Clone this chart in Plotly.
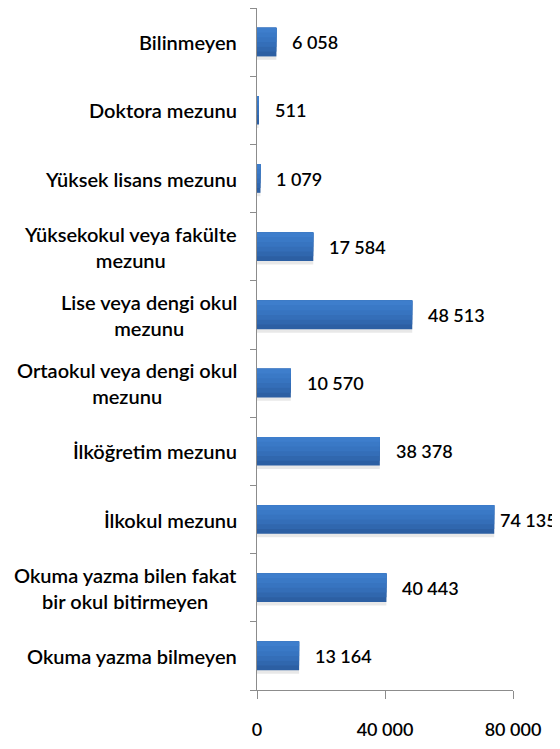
import plotly.graph_objects as go

categories = [
    "Okuma yazma bilmeyen",
    "Okuma yazma bilen fakat<br>bir okul bitirmeyen",
    "İlkokul mezunu",
    "İlköğretim mezunu",
    "Ortaokul veya dengi okul<br>mezunu",
    "Lise veya dengi okul<br>mezunu",
    "Yüksekokul veya fakülte<br>mezunu",
    "Yüksek lisans mezunu",
    "Doktora mezunu",
    "Bilinmeyen",
]
values = [13164, 40443, 74135, 38378, 10570, 48513, 17584, 1079, 511, 6058]
x_ticks = [0, 40000, 80000]

FONT = "Lato"
WEIGHT = 600
fmt = lambda v: f"{v:,}".replace(",", " ")

BW = 0.42  # bar thickness in category units
fig = go.Figure()
# soft shadow
fig.add_trace(go.Bar(
    y=categories, x=values, orientation="h",
    marker=dict(color="rgba(0,0,0,0.09)", line=dict(width=0)),
    width=BW, offset=-BW / 2 - 0.05, hoverinfo="skip",
))
# vertical gradient approximated with stacked bands (dark bottom -> light top)
band_colors = ["#2c5fa3", "#3067ae", "#346eb8", "#3774c0", "#3a79c6", "#3e7ecc"]
n = len(band_colors)
for i, col in enumerate(band_colors):
    start = -BW / 2 + BW * i / n
    fig.add_trace(go.Bar(
        y=categories, x=values, orientation="h",
        marker=dict(color=col, line=dict(width=0)),
        width=BW * (n - i) / n, offset=start, hoverinfo="skip",
    ))

annotations = []
for c, v in zip(categories, values):
    annotations.append(dict(
        x=v, y=c, xref="x", yref="y", text=fmt(v), showarrow=False,
        xanchor="left", xshift=14 if v < 70000 else 4,
        font=dict(family=FONT, size=18, color="#000000", weight=WEIGHT),
    ))
    annotations.append(dict(
        x=0, y=c, xref="paper", yref="y", text=c, showarrow=False,
        xanchor="right", align="center", xshift=-18,
        font=dict(family=FONT, size=20, color="#000000", weight=WEIGHT),
    ))

# the page body adds an 8 px margin, so the figure is drawn from (8, 8)
fig.update_layout(
    width=552, height=741,
    margin=dict(l=249, r=47, t=0, b=59),
    paper_bgcolor="white", plot_bgcolor="white",
    showlegend=False, barmode="overlay",
    separators=", ",
    annotations=annotations,
    xaxis=dict(
        range=[0, 80000], tickvals=x_ticks, ticktext=[fmt(t) for t in x_ticks],
        showgrid=False, zeroline=False, showline=True, linecolor="#8c8c8c",
        ticks="outside", ticklen=8, tickcolor="#8c8c8c",
        ticklabelstandoff=15,
        tickfont=dict(family=FONT, size=18, color="#000000", weight=WEIGHT),
    ),
    yaxis=dict(
        showticklabels=False, showgrid=False, zeroline=False,
        showline=True, linecolor="#8c8c8c",
        ticks="outside", ticklen=6, tickcolor="#8c8c8c", tickson="boundaries",
        range=[-0.5, 9.5],
    ),
)

fig.write_html("out.html")
